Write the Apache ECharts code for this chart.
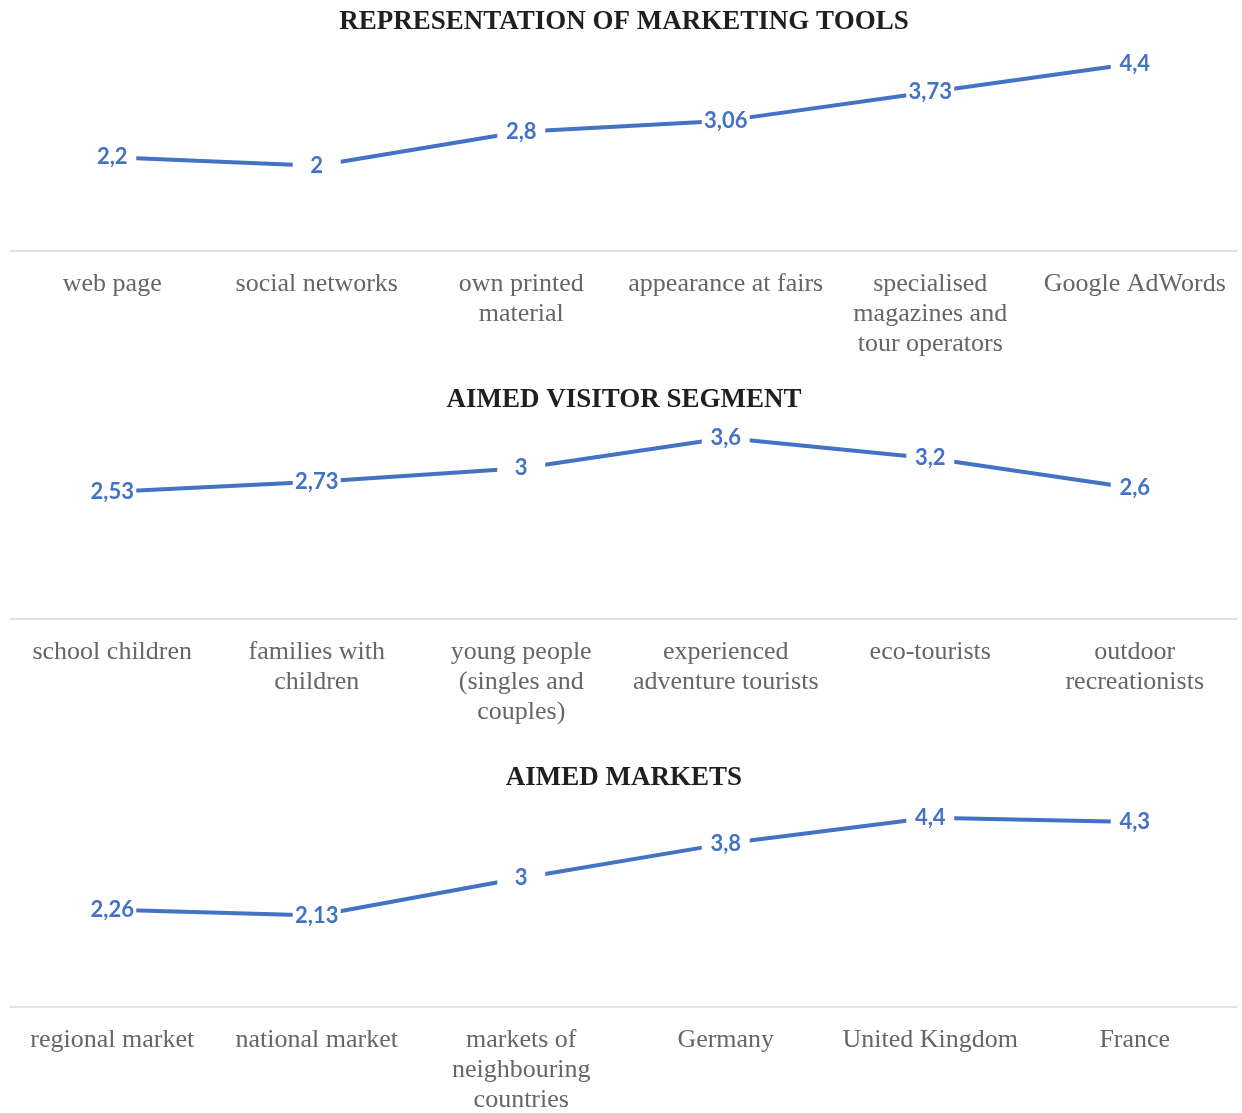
<!DOCTYPE html>
<html>
<head>
<meta charset="utf-8">
<title>Marketing tools, visitor segments and markets</title>
<script src="https://cdn.jsdelivr.net/npm/echarts@6/dist/echarts.min.js"></script>
<style>
  html, body { margin: 0; padding: 0; background: #fff; }
  #chart { width: 1242px; height: 1113px; }
</style>
</head>
<body>
<div id="chart"></div>
<script>
// chart titles
var titles = ['REPRESENTATION OF MARKETING TOOLS', 'AIMED VISITOR SEGMENT', 'AIMED MARKETS'];

// marketing tools
var toolCategories = ['web page', 'social networks', 'own printed\nmaterial', 'appearance at fairs',
  'specialised\nmagazines and\ntour operators', 'Google AdWords'];
var toolValues = [2.2, 2, 2.8, 3.06, 3.73, 4.4];

// visitor segments
var segmentCategories = ['school children', 'families with\nchildren', 'young people\n(singles and\ncouples)',
  'experienced\nadventure tourists', 'eco-tourists', 'outdoor\nrecreationists'];
var segmentValues = [2.53, 2.73, 3, 3.6, 3.2, 2.6];

// markets
var marketCategories = ['regional market', 'national market', 'markets of\nneighbouring\ncountries',
  'Germany', 'United Kingdom', 'France'];
var marketValues = [2.26, 2.13, 3, 3.8, 4.4, 4.3];

// value axis ranges (hidden)
var yMax = [5, 4, 5];

var categories = [toolCategories, segmentCategories, marketCategories];
var values = [toolValues, segmentValues, marketValues];

var grids = [
  { left: 10, right: 5, top: 38, height: 213, outerBoundsMode: 'none' },
  { left: 10, right: 5, top: 418, height: 201, outerBoundsMode: 'none' },
  { left: 10, right: 5, top: 792, height: 215, outerBoundsMode: 'none' }
];
var titleTops = [9, 387, 765];

var myChart = echarts.init(document.getElementById('chart'));

var option = {
  animation: false,
  backgroundColor: '#fff',
  title: titles.map(function (t, i) {
    return {
      text: t,
      left: 624,
      textAlign: 'center',
      top: titleTops[i],
      padding: 0,
      textStyle: {
        fontFamily: 'Liberation Serif',
        fontWeight: 'bold',
        fontSize: 27,
        color: '#1f1f1f'
      }
    };
  }),
  grid: grids,
  xAxis: categories.map(function (cats, i) {
    return {
      type: 'category',
      gridIndex: i,
      data: cats,
      boundaryGap: true,
      axisLine: { lineStyle: { color: '#d9d9d9', width: 1.5 } },
      axisTick: { show: false },
      axisLabel: {
        interval: 0,
        margin: 18,
        fontFamily: 'Liberation Serif',
        fontSize: 26,
        lineHeight: 30,
        color: '#666666',
        align: 'center'
      }
    };
  }),
  yAxis: yMax.map(function (m, i) {
    return {
      type: 'value',
      gridIndex: i,
      min: 0,
      max: m,
      interval: 1,
      show: false,
      splitLine: { show: false }
    };
  }),
  series: values.map(function (vals, i) {
    return {
      type: 'line',
      xAxisIndex: i,
      yAxisIndex: i,
      data: vals,
      symbol: 'circle',
      symbolSize: 0,
      lineStyle: { color: '#4472C4', width: 4 },
      itemStyle: { color: '#4472C4' },
      label: {
        show: true,
        position: 'inside',
        formatter: function (p) { return String(p.value).replace('.', ','); },
        fontFamily: 'Lato',
        fontWeight: 'bold',
        fontSize: 22,
        color: '#4472C4',
        backgroundColor: '#fff',
        width: 42,
        align: 'center',
        padding: [2, 3]
      }
    };
  })
};

myChart.setOption(option);
</script>
</body>
</html>
